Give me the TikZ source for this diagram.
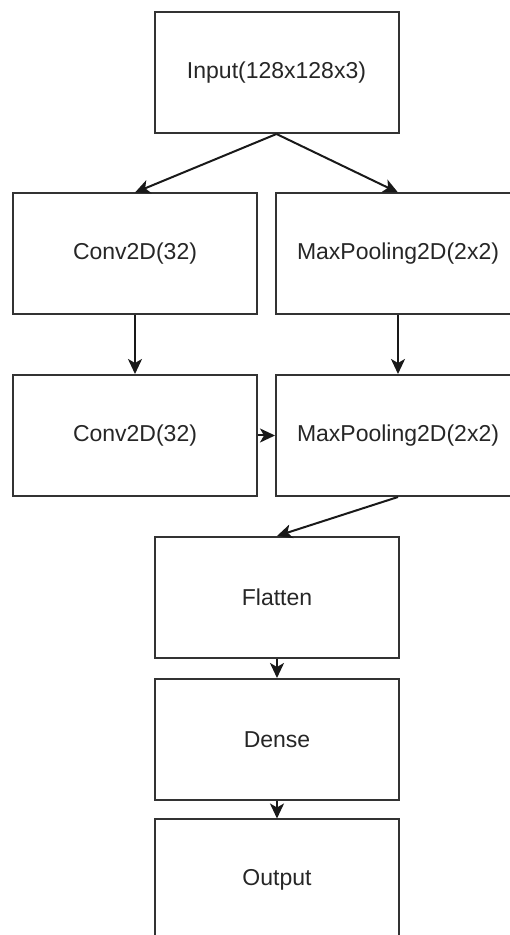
\documentclass[tikz,border=0pt]{standalone}
\usepackage{fontspec}
\setmainfont{Liberation Sans}
\usetikzlibrary{arrows.meta}

\tikzset{
  lyr/.style = {rectangle, draw, line width=2pt, draw=black!80, text=black!85,
    minimum width=244pt, minimum height=121pt, font=\fontsize{23}{27}\selectfont},
  conn/.style = {draw, line width=2pt, black!90, -{Stealth[length=15pt,width=14pt,inset=4pt]}}
}

\begin{document}
\begin{tikzpicture}[x=1pt,y=1pt, every edge/.style = {conn}]

\useasboundingbox (0,0) rectangle (510,935);
\clip (0,0) rectangle (510,935);

\node(inp) [lyr] at (276.5,862.5) {Input(128x128x3)};

\node(conv1) [lyr] at (135,681) {Conv2D(32)};
\node(pool1) [lyr] at (398,681) {MaxPooling2D(2x2)};

\node(conv2) [lyr] at (135,499.5) {Conv2D(32)};
\node(pool2) [lyr] at (398,499.5) {MaxPooling2D(2x2)};

\node(flat) [lyr] at (277,337.5) {Flatten};
\node(dns) [lyr] at (277,195.5) {Dense};
\node(outp) [lyr] at (277,55) {Output};
%
\path   (inp.south) edge (conv1.north)
        (inp.south) edge (pool1.north)
        (conv1) edge (conv2)
        (pool1) edge (pool2)
        (conv2) edge (pool2)
        (pool2.south) edge (flat.north)
        (flat) edge (dns)
        (dns) edge (outp);

\end{tikzpicture}
\end{document}
